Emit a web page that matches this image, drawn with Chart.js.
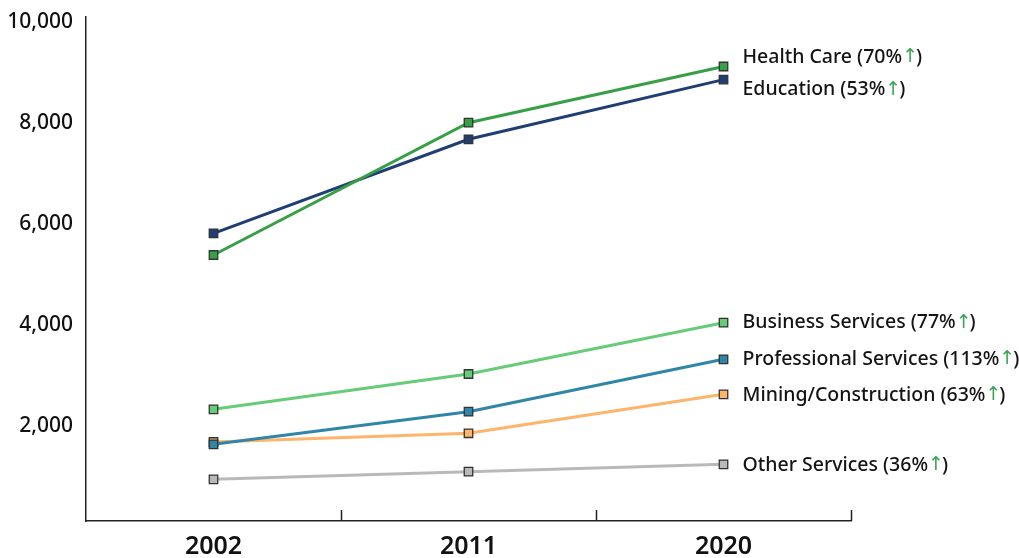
<!DOCTYPE html>
<html>
<head>
<meta charset="utf-8">
<script src="https://cdn.jsdelivr.net/npm/chart.js@4"></script>
<style>
  html, body { margin: 0; padding: 0; background: #fff; }
  #wrap { width: 1019px; height: 558px; }
</style>
</head>
<body>
<div id="wrap"><canvas id="lineChart" width="1019" height="558"></canvas></div>
<script>
"use strict"
//Data
const years = ["2002", "2011", "2020"];
const seriesNames = ["Health Care", "Education", "Business Services", "Professional Services", "Mining/Construction", "Other Services"];
const growth = ["70%", "53%", "77%", "113%", "63%", "36%"];
const healthCare = [5387, 8007, 9120];
const education = [5817, 7678, 8860];
const businessServices = [2332, 3031, 4047];
const professionalServices = [1639, 2284, 3322];
const miningConstruction = [1684, 1857, 2629];
const otherServices = [946, 1096, 1243];
const yTicks = [2000, 4000, 6000, 8000, 10000];

const colors = ["#37a047", "#1f3e73", "#67cc78", "#2f86a6", "#fdb46b", "#b9b9b9"];
const labelShift = [-9, 10, 0, 0, 1, 1]; //flytta etiketter lite så de inte krockar
const font = "'Noto Sans', 'Open Sans', sans-serif";

const allSeries = [healthCare, education, businessServices, professionalServices, miningConstruction, otherServices];

//etiketter till höger om sista punkten
const endLabels = {
    id: "endLabels",
    afterDatasetsDraw(chart) {
        const ctx = chart.ctx;
        ctx.save();
        ctx.textBaseline = "middle";
        chart.data.datasets.forEach((ds, i) => {
            const meta = chart.getDatasetMeta(i);
            const pt = meta.data[meta.data.length - 1];
            const x = pt.x + 19;
            const y = pt.y + labelShift[i];
            const first = ds.label + " (" + growth[i];
            ctx.font = "500 19.5px " + font;
            ctx.fillStyle = "#141414";
            ctx.fillText(first, x, y);
            let w = ctx.measureText(first).width;
            ctx.font = "19px 'DejaVu Sans', sans-serif";
            ctx.fillStyle = "#3aa655";
            ctx.fillText("\u2191", x + w, y);
            w += ctx.measureText("\u2191").width - 2;
            ctx.font = "500 19.5px " + font;
            ctx.fillStyle = "#141414";
            ctx.fillText(")", x + w, y);
        });
        ctx.restore();
    }
};

//små streck uppåt mellan kategorierna
const innerTicks = {
    id: "innerTicks",
    beforeDatasetsDraw(chart) {
        const ctx = chart.ctx;
        const xs = chart.scales.x;
        const bottom = chart.chartArea.bottom;
        const half = (xs.getPixelForValue(1) - xs.getPixelForValue(0)) / 2;
        ctx.save();
        ctx.strokeStyle = "#222";
        ctx.lineWidth = 1.5;
        for (let i = 0; i < years.length; i++) {
            const x = Math.round(xs.getPixelForValue(i) + half) + 0.5;
            ctx.beginPath();
            ctx.moveTo(x, bottom);
            ctx.lineTo(x, bottom - 11);
            ctx.stroke();
        }
        ctx.restore();
    }
};

new Chart(document.getElementById("lineChart"), {
    type: "line",
    data: {
        labels: years,
        datasets: allSeries.map((vals, i) => ({
            label: seriesNames[i],
            data: vals,
            borderColor: colors[i],
            backgroundColor: colors[i],
            borderWidth: 3,
            pointStyle: "rect",
            pointRadius: 6,
            pointHoverRadius: 6,
            pointBorderColor: "#333",
            pointBorderWidth: 1.3,
            pointBackgroundColor: colors[i],
            tension: 0
        }))
    },
    options: {
        responsive: false,
        animation: false,
        layout: { padding: { top: 17, right: 168, left: 0, bottom: 0 } },
        plugins: {
            legend: { display: false },
            tooltip: { enabled: false }
        },
        scales: {
            x: {
                offset: true,
                grid: { display: false, offset: true, drawTicks: false },
                border: { display: true, color: "#222", width: 1.5 },
                ticks: {
                    color: "#111",
                    padding: 11,
                    font: { family: font, size: 25, weight: "600" }
                },
                afterFit(scale) { scale.height = 37; }
            },
            y: {
                min: 120,
                max: 10100,
                grid: { display: false, drawTicks: false },
                border: { display: true, color: "#222", width: 1.5 },
                afterBuildTicks(scale) {
                    scale.ticks = yTicks.map(v => ({ value: v }));
                },
                ticks: {
                    color: "#111",
                    padding: 13,
                    font: { family: font, size: 21, weight: "500" },
                    callback: v => v.toLocaleString("en-US")
                },
                afterFit(scale) {
                    scale.width = 86;
                    scale.paddingTop = 0;
                    scale.paddingBottom = 0;
                }
            }
        }
    },
    plugins: [innerTicks, endLabels]
});
</script>
</body>
</html>
